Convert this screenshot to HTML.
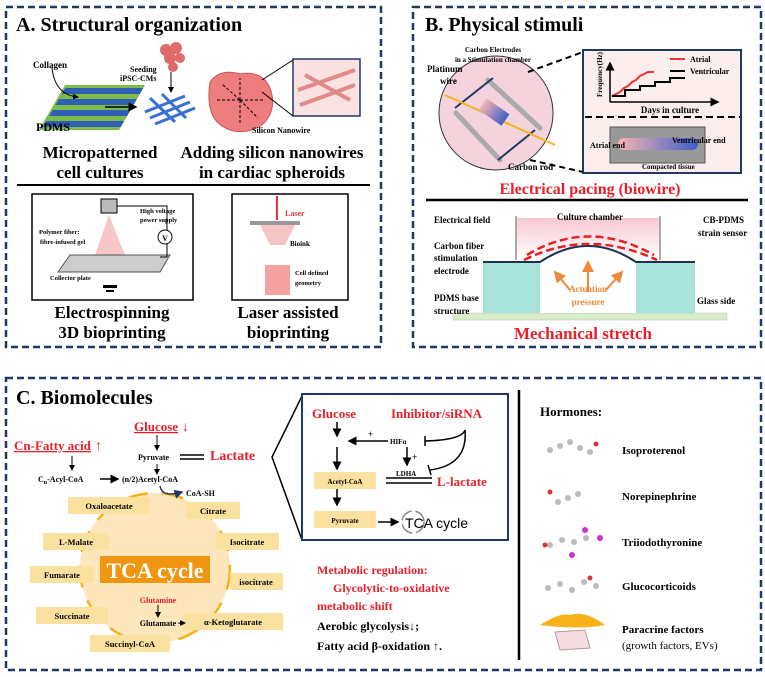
<!DOCTYPE html>
<html><head><meta charset="utf-8"><style>
body{margin:0;background:#fff}
svg{display:block;font-family:"Liberation Serif",serif;font-weight:bold}
</style></head><body>
<svg width="765" height="677" viewBox="0 0 765 677" xmlns="http://www.w3.org/2000/svg">
<defs>
<marker id="ab" markerWidth="6" markerHeight="6" refX="5" refY="3" orient="auto"><path d="M0,0L6,3L0,6z" fill="#000"/></marker>
<marker id="ao" markerWidth="6" markerHeight="6" refX="5" refY="3" orient="auto"><path d="M0,0L6,3L0,6z" fill="#f5b21a"/></marker>
<marker id="aor" markerWidth="6" markerHeight="6" refX="5" refY="3" orient="auto"><path d="M0,0L6,3L0,6z" fill="#ee8a3a"/></marker>
<marker id="an" markerWidth="6" markerHeight="6" refX="5" refY="3" orient="auto"><path d="M0,0L6,3L0,6z" fill="#1f3864"/></marker>
<linearGradient id="bw" x1="0" x2="1"><stop offset="0" stop-color="#f6b3b3"/><stop offset="1" stop-color="#3f5fc8"/></linearGradient>
<linearGradient id="ch" x1="0" y1="0" x2="0" y2="1"><stop offset="0" stop-color="#f8c9d4"/><stop offset="1" stop-color="#fff"/></linearGradient>
</defs>
<g fill="none" stroke="#1f3864" stroke-width="2.5" stroke-dasharray="7,4">
<rect x="6" y="7" width="375" height="340"/>
<rect x="413" y="7" width="348" height="340"/>
<rect x="6" y="378" width="755" height="292"/>
</g>
<!-- Panel A -->
<text x="16" y="31" font-size="20">A. Structural organization</text>
<g transform="translate(45,85) skewX(-30)">
<rect x="20" y="0" width="80" height="45" fill="#7dbb4b"/>
<g fill="#2e5fb5"><rect x="22" y="3" width="78" height="6"/><rect x="22" y="14" width="78" height="6"/><rect x="22" y="25" width="78" height="6"/><rect x="22" y="36" width="78" height="6"/></g>
</g>
<text x="33" y="68" font-size="9">Collagen</text>
<path d="M52,68 Q55,95 78,97" stroke="#000" fill="none" marker-end="url(#ab)"/>
<text x="36" y="131" font-size="12">PDMS</text>
<line x1="105" y1="107" x2="136" y2="107" stroke="#000" stroke-width="1.5" marker-end="url(#ab)"/>
<g stroke="#3a6fd8" stroke-width="3"><line x1="145" y1="112" x2="185" y2="96"/><line x1="150" y1="118" x2="190" y2="102"/><line x1="155" y1="124" x2="195" y2="108"/><line x1="150" y1="98" x2="175" y2="122"/><line x1="162" y1="94" x2="186" y2="118"/></g>
<g fill="#e06a6a"><circle cx="166" cy="50" r="6"/><circle cx="176" cy="48" r="6"/><circle cx="170" cy="58" r="6"/><circle cx="180" cy="58" r="5"/><circle cx="173" cy="67" r="5"/></g>
<text x="130" y="72" font-size="8">Seeding</text><text x="120" y="81" font-size="8">iPSC-CMs</text>
<line x1="171" y1="72" x2="171" y2="92" stroke="#000" marker-end="url(#ab)"/>
<path d="M210,82 Q220,68 240,74 Q262,70 270,88 Q278,110 262,125 Q240,138 222,126 Q205,115 210,82z" fill="#ee7d7d" stroke="#c55" />
<g stroke="#000" stroke-dasharray="3,2"><line x1="240" y1="100" x2="215" y2="100"/><line x1="240" y1="100" x2="265" y2="100"/><line x1="240" y1="100" x2="240" y2="78"/><line x1="240" y1="100" x2="240" y2="125"/><line x1="240" y1="100" x2="222" y2="84"/><line x1="240" y1="100" x2="258" y2="118"/></g>
<rect x="293" y="59" width="67" height="57" fill="#fbe2e2" stroke="#1f3864" stroke-width="1.5"/>
<g stroke="#e08a8a" stroke-width="4"><line x1="298" y1="90" x2="355" y2="70"/><line x1="300" y1="105" x2="355" y2="85"/><line x1="305" y1="75" x2="350" y2="100"/></g>
<line x1="262" y1="80" x2="293" y2="60" stroke="#000"/><line x1="262" y1="92" x2="293" y2="116" stroke="#000"/>
<text x="252" y="133" font-size="8">Silicon Nanowire</text>
<text x="100" y="158" font-size="17" text-anchor="middle">Micropatterned</text>
<text x="100" y="178" font-size="17" text-anchor="middle">cell cultures</text>
<text x="272" y="158" font-size="17" text-anchor="middle">Adding silicon nanowires</text>
<text x="272" y="178" font-size="17" text-anchor="middle">in cardiac spheroids</text>
<line x1="17" y1="185" x2="370" y2="185" stroke="#000" stroke-width="2"/>
<rect x="32" y="194" width="161" height="106" fill="#fff" stroke="#000" stroke-width="1.5"/>
<rect x="101" y="199" width="16" height="14" fill="#bbb" stroke="#000"/>
<path d="M109,215 L95,255 L125,255z" fill="#f7c6c6"/>
<polygon points="70,255 170,255 160,272 58,272" fill="#ccc" stroke="#555"/>
<path d="M117,206 H167 V257 H160" fill="none" stroke="#000"/>
<circle cx="165" cy="237" r="7" fill="#fff" stroke="#000"/><text x="165" y="241" font-size="8" text-anchor="middle">V</text>
<text x="140" y="213" font-size="6.5">High voltage</text><text x="140" y="222" font-size="6.5">power supply</text>
<text x="39" y="234" font-size="6.5">Polymer fiber:</text><text x="40" y="244" font-size="6.5">fibre-infused gel</text>
<text x="50" y="280" font-size="6.5">Collector plate</text>
<rect x="103" y="285" width="14" height="3" fill="#000"/><rect x="106" y="290" width="8" height="2" fill="#000"/>
<rect x="232" y="194" width="116" height="106" fill="#fff" stroke="#000" stroke-width="1.5"/>
<line x1="277" y1="196" x2="277" y2="220" stroke="#e33" stroke-width="2"/>
<rect x="250" y="221" width="50" height="4" fill="#999"/>
<path d="M260,225 L295,225 L285,245 L270,245z" fill="#f6c4c4"/>
<rect x="265" y="265" width="25" height="30" fill="#f08a8a" opacity=".8"/>
<text x="285" y="216" font-size="8" fill="#e33">Laser</text>
<text x="290" y="246" font-size="7">Bioink</text>
<text x="295" y="275" font-size="6.5">Cell defined</text><text x="295" y="285" font-size="6.5">geometry</text>
<text x="112" y="318" font-size="17" text-anchor="middle">Electrospinning</text>
<text x="112" y="338" font-size="17" text-anchor="middle">3D bioprinting</text>
<text x="288" y="318" font-size="17" text-anchor="middle">Laser assisted</text>
<text x="288" y="338" font-size="17" text-anchor="middle">bioprinting</text>
<!-- Panel B -->
<text x="425" y="31" font-size="20">B. Physical stimuli</text>
<circle cx="496" cy="113" r="57" fill="#f4d3dc" stroke="#333"/>
<g stroke="#aaa" stroke-width="5" stroke-linecap="round"><line x1="456" y1="113" x2="500" y2="160"/><line x1="488" y1="80" x2="540" y2="128"/></g>
<g stroke="#1f3864" stroke-width="2"><line x1="455" y1="108" x2="493" y2="78"/><line x1="498" y1="160" x2="535" y2="130"/></g>
<line x1="445" y1="95" x2="555" y2="145" stroke="#f2b520" stroke-width="2"/>
<rect x="480" y="105" width="28" height="14" fill="url(#bw)" transform="rotate(35 494 112)"/>
<text x="493" y="52" font-size="7" text-anchor="middle">Carbon Electrodes</text>
<text x="493" y="62" font-size="7" text-anchor="middle">in a Stimulation chamber</text>
<text x="427" y="72" font-size="9">Platinum</text><text x="440" y="84" font-size="9">wire</text>
<text x="508" y="170" font-size="9">Carbon rod</text>
<line x1="528" y1="72" x2="583" y2="52" stroke="#000" stroke-width="2" stroke-dasharray="6,4"/>
<line x1="530" y1="160" x2="583" y2="172" stroke="#000" stroke-width="2" stroke-dasharray="6,4"/>
<rect x="583" y="50" width="158" height="123" fill="#fdeeee" stroke="#1f3864" stroke-width="2"/>
<line x1="610" y1="102" x2="610" y2="63" stroke="#000" stroke-width="1.5" marker-end="url(#ab)"/>
<line x1="610" y1="102" x2="718" y2="102" stroke="#000" stroke-width="1.5" marker-end="url(#ab)"/>
<polyline points="612,96 620,92 624,88 628,86 632,82 636,80 640,76 644,74 648,72 654,72" fill="none" stroke="#e33" stroke-width="2"/>
<polyline points="612,96 625,96 625,90 640,90 640,86 655,86 655,82 670,82 670,78 685,78" fill="none" stroke="#000" stroke-width="2"/>
<line x1="670" y1="59" x2="685" y2="59" stroke="#e33" stroke-width="2"/><text x="690" y="62" font-size="8">Atrial</text>
<line x1="670" y1="71" x2="685" y2="71" stroke="#000" stroke-width="2"/><text x="690" y="74" font-size="8">Ventricular</text>
<text x="602" y="97" font-size="7" transform="rotate(-90 602 97)">Frequency(Hz)</text>
<text x="670" y="113" font-size="9" text-anchor="middle">Days in culture</text>
<line x1="585" y1="117" x2="740" y2="117" stroke="#000" stroke-width="2" stroke-dasharray="7,4"/>
<rect x="610" y="127" width="95" height="36" fill="#999" stroke="#555"/>
<rect x="618" y="138" width="80" height="12" rx="6" fill="url(#bw)"/>
<text x="590" y="148" font-size="8">Atrial end</text><text x="672" y="143" font-size="8">Ventricular end</text>
<text x="642" y="169" font-size="7">Compacted tissue</text>
<text x="590" y="194" font-size="16" fill="#e8202a" text-anchor="middle">Electrical pacing (biowire)</text>
<line x1="426" y1="200" x2="748" y2="200" stroke="#000" stroke-width="2.5"/>
<rect x="516" y="218" width="144" height="42" fill="url(#ch)"/>
<line x1="516" y1="216" x2="516" y2="260" stroke="#aaa" stroke-width="2"/><line x1="660" y1="216" x2="660" y2="260" stroke="#aaa" stroke-width="2"/>
<rect x="453" y="313" width="274" height="7" fill="#d8ecc8" stroke="#bbb" stroke-width=".5"/>
<rect x="483" y="262" width="212" height="51" fill="#a8e3dc"/>
<path d="M540,313 V262 Q588,228 636,262 V313z" fill="#fff"/>
<path d="M483,262 H540 Q588,230 636,262 H695" fill="none" stroke="#1f2f4f" stroke-width="2"/>
<path d="M527,255 Q588,218 654,255" fill="none" stroke="#e82020" stroke-width="2.5" stroke-dasharray="8,4"/>
<path d="M524,260 Q588,228 657,260" fill="none" stroke="#e82020" stroke-width="2.5" stroke-dasharray="8,4"/>
<g stroke="#ee8a3a" stroke-width="2"><line x1="588" y1="292" x2="588" y2="262" marker-end="url(#aor)"/><line x1="570" y1="290" x2="555" y2="272" marker-end="url(#aor)"/><line x1="606" y1="290" x2="622" y2="272" marker-end="url(#aor)"/></g>
<text x="588" y="292" font-size="9" fill="#ee8a3a" text-anchor="middle">Actuation</text>
<text x="588" y="305" font-size="9" fill="#ee8a3a" text-anchor="middle">pressure</text>
<text x="590" y="220" font-size="9" text-anchor="middle">Culture chamber</text>
<text x="434" y="223" font-size="9">Electrical field</text>
<text x="434" y="249" font-size="9">Carbon fiber</text><text x="434" y="261" font-size="9">stimulation</text><text x="434" y="274" font-size="9">electrode</text>
<text x="434" y="301" font-size="9">PDMS base</text><text x="434" y="314" font-size="9">structure</text>
<text x="703" y="223" font-size="9">CB-PDMS</text><text x="698" y="236" font-size="9">strain sensor</text>
<text x="697" y="304" font-size="9">Glass side</text>
<text x="583" y="339" font-size="17" fill="#e8202a" text-anchor="middle">Mechanical stretch</text>
<!-- Panel C -->
<text x="16" y="404" font-size="20">C. Biomolecules</text>
<circle cx="155" cy="568" r="75" fill="#fde6bb" stroke="#f5b21a" stroke-width="2.5" stroke-dasharray="22,14"/>
<text x="14" y="450" font-size="13" fill="#e8202a" text-decoration="underline">Cn-Fatty acid</text><text x="95" y="450" font-size="14" fill="#e8202a">↑</text>
<text x="134" y="431" font-size="13" fill="#e8202a" text-decoration="underline">Glucose</text><text x="182" y="431" font-size="14" fill="#e8202a">↓</text>
<text x="210" y="460" font-size="14" fill="#e8202a">Lactate</text>
<text x="138" y="460" font-size="8">Pyruvate</text>
<path d="M180,455 H204 M180,459 H204" stroke="#000" stroke-width="1.5"/>
<text x="38" y="482" font-size="8">C<tspan font-size="6" dy="2">n</tspan><tspan dy="-2">-Acyl-CoA</tspan></text>
<line x1="100" y1="479" x2="118" y2="479" stroke="#000" stroke-width="1.5" marker-end="url(#ab)"/>
<text x="122" y="482" font-size="8">(n/2)Acetyl-CoA</text>
<line x1="72" y1="456" x2="72" y2="470" stroke="#000" marker-end="url(#ab)"/>
<line x1="157" y1="435" x2="157" y2="450" stroke="#000" marker-end="url(#ab)"/>
<line x1="157" y1="464" x2="157" y2="474" stroke="#000" marker-end="url(#ab)"/>
<path d="M160,486 Q162,498 182,492" stroke="#1f3864" stroke-width="1.5" fill="none" marker-end="url(#an)"/>
<text x="186" y="496" font-size="8">CoA-SH</text>
<g fill="#fbe1a0"><rect x="68" y="497" width="82" height="17"/><rect x="186" y="502" width="54" height="17"/><rect x="43" y="533" width="66" height="17"/><rect x="216" y="533" width="63" height="17"/><rect x="30" y="566" width="64" height="17"/><rect x="230" y="573" width="53" height="17"/><rect x="36" y="607" width="72" height="17"/><rect x="183" y="613" width="100" height="17"/><rect x="90" y="635" width="80" height="17"/></g>
<g font-size="8.5" text-anchor="middle"><text x="109" y="509">Oxaloacetate</text><text x="213" y="514">Citrate</text><text x="76" y="545">L-Malate</text><text x="247" y="545">Isocitrate</text><text x="62" y="578">Fumarate</text><text x="256" y="585">isocitrate</text><text x="72" y="619">Succinate</text><text x="233" y="625">α-Ketoglutarate</text><text x="130" y="647">Succinyl-CoA</text></g>
<rect x="100" y="556" width="110" height="27" fill="#f0950f"/>
<text x="155" y="578" font-size="22" fill="#fff" text-anchor="middle">TCA cycle</text>
<text x="158" y="603" font-size="8" fill="#e8202a" text-anchor="middle">Glutamine</text>
<line x1="158" y1="605" x2="158" y2="617" stroke="#000" marker-end="url(#ab)"/>
<text x="158" y="626" font-size="8" text-anchor="middle">Glutamate</text>
<line x1="178" y1="623" x2="185" y2="623" stroke="#000" marker-end="url(#ab)"/>
<polyline points="302,396 272,457 302,540" fill="none" stroke="#000" stroke-width="1.5"/>
<rect x="302" y="394" width="206" height="146" fill="#fff" stroke="#1f3864" stroke-width="2"/>
<text x="312" y="418" font-size="13" fill="#e8202a">Glucose</text>
<text x="391" y="418" font-size="13" fill="#e8202a">Inhibitor/siRNA</text>
<line x1="337" y1="422" x2="337" y2="436" stroke="#000" stroke-width="1.5" marker-end="url(#ab)"/>
<line x1="337" y1="447" x2="337" y2="469" stroke="#000" stroke-width="1.5" marker-end="url(#ab)"/>
<line x1="388" y1="441" x2="349" y2="441" stroke="#000" stroke-width="1.5" marker-end="url(#ab)"/>
<text x="368" y="437" font-size="9">+</text>
<text x="390" y="444" font-size="7">HIFα</text>
<path d="M465,430 Q462,440 425,441 M425,436 V446" stroke="#000" stroke-width="1.5" fill="none"/>
<path d="M465,430 Q468,465 430,470 M428,465 L431,475" stroke="#000" stroke-width="1.5" fill="none"/>
<line x1="407" y1="447" x2="407" y2="465" stroke="#000" stroke-width="1.5" marker-end="url(#ab)"/>
<text x="412" y="460" font-size="9">+</text>
<text x="396" y="476" font-size="7">LDHA</text>
<rect x="314" y="472" width="62" height="17" fill="#fbe1a0"/><text x="345" y="484" font-size="7" text-anchor="middle">Acetyl-CoA</text>
<path d="M386,478 H432 M386,483 H432" stroke="#000" stroke-width="1.5"/>
<text x="437" y="486" font-size="13" fill="#e8202a">L-lactate</text>
<line x1="337" y1="489" x2="337" y2="505" stroke="#000" stroke-width="1.5" marker-end="url(#ab)"/>
<rect x="314" y="511" width="62" height="17" fill="#fbe1a0"/><text x="345" y="523" font-size="7" text-anchor="middle">Pyruvate</text>
<line x1="378" y1="522" x2="398" y2="522" stroke="#000" stroke-width="1.5" marker-end="url(#ab)"/>
<circle cx="413" cy="522" r="11" fill="none" stroke="#888" stroke-width="1.5" stroke-dasharray="14,4"/>
<text x="405" y="528" font-size="14" font-weight="normal" font-family="Liberation Sans,sans-serif">TCA cycle</text>
<g font-size="12"><text x="317" y="574" fill="#e8202a">Metabolic regulation:</text><text x="333" y="592" fill="#e8202a">Glycolytic-to-oxidative</text><text x="317" y="610" fill="#e8202a">metabolic shift</text><text x="317" y="630">Aerobic glycolysis↓;</text><text x="317" y="650">Fatty acid β-oxidation ↑.</text></g>
<line x1="519" y1="390" x2="519" y2="660" stroke="#000" stroke-width="2.5"/>
<text x="540" y="416" font-size="13">Hormones:</text>
<g font-size="11"><text x="622" y="454">Isoproterenol</text><text x="622" y="500">Norepinephrine</text><text x="622" y="546">Triiodothyronine</text><text x="622" y="590">Glucocorticoids</text><text x="622" y="633">Paracrine factors</text><text x="622" y="649" font-weight="normal">(growth factors, EVs)</text></g>
<g fill="#bbb"><circle cx="550" cy="450" r="3"/><circle cx="560" cy="446" r="3"/><circle cx="570" cy="442" r="3"/><circle cx="580" cy="448" r="3"/><circle cx="590" cy="452" r="3"/><circle cx="558" cy="502" r="3"/><circle cx="568" cy="498" r="3"/><circle cx="578" cy="494" r="3"/><circle cx="550" cy="545" r="3"/><circle cx="562" cy="540" r="3"/><circle cx="574" cy="542" r="3"/><circle cx="586" cy="538" r="3"/><circle cx="548" cy="588" r="3"/><circle cx="560" cy="584" r="3"/><circle cx="572" cy="590" r="3"/><circle cx="584" cy="582" r="3"/><circle cx="596" cy="586" r="3"/></g>
<g fill="#d33"><circle cx="596" cy="444" r="2.5"/><circle cx="550" cy="492" r="2.5"/><circle cx="545" cy="545" r="2.5"/><circle cx="590" cy="578" r="2.5"/></g>
<g fill="#c3c"><circle cx="585" cy="530" r="3"/><circle cx="600" cy="538" r="3"/><circle cx="572" cy="555" r="3"/></g>
<path d="M540,625 Q560,612 570,615 Q585,610 605,625 Q580,630 540,625z" fill="#f5b21a"/>
<polygon points="555,632 585,630 590,648 560,650" fill="#f3dde0" stroke="#b99"/>
</svg>
</body></html>
